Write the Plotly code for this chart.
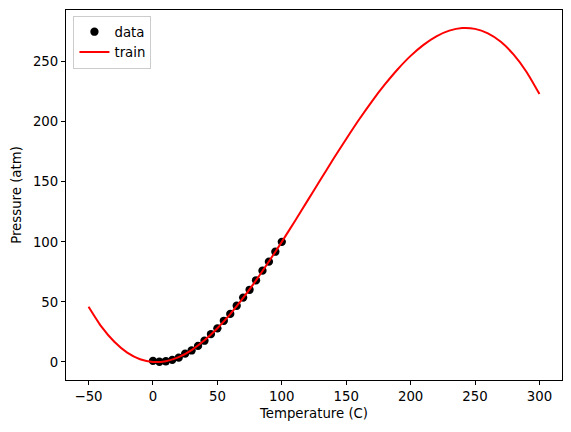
import plotly.graph_objects as go

# Observed data
temp_data = [0, 5, 10, 15, 20, 25, 30, 35, 40, 45, 50, 55, 60, 65, 70, 75, 80, 85, 90, 95, 100]
pres_data = [0.9, 0.2, 0.6, 1.8, 3.6, 6.9, 9.6, 13.4, 17.7, 23.2, 28.0, 34.3, 40.0, 46.8,
             53.6, 60.1, 68.0, 76.0, 83.5, 91.8, 100.0]

# Trained (fitted) curve
temp_train = [-50, -40, -30, -20, -10, 0, 10, 20, 30, 40, 50, 60, 70, 80, 90, 100, 110, 120,
              130, 140, 150, 160, 170, 180, 190, 200, 210, 220, 230, 240, 250, 260, 270, 280,
              290, 300]
pres_train = [46.0, 29.4, 16.8, 7.8, 2.3, 0.0, 0.65, 4.0, 9.9, 18.0, 28.1, 39.9, 53.3, 67.9,
              83.6, 100.0, 117.0, 134.3, 151.7, 168.9, 185.6, 201.8, 217.0, 231.0, 243.7,
              254.8, 264.0, 271.1, 275.8, 278.0, 277.3, 273.5, 266.5, 255.8, 241.4, 223.0]

x_ticks = [-50, 0, 50, 100, 150, 200, 250, 300]
y_ticks = [0, 50, 100, 150, 200, 250]

fig = go.Figure()
fig.add_trace(go.Scatter(x=temp_data, y=pres_data, mode="markers", name="data",
                         marker=dict(color="black", size=8.3)))
fig.add_trace(go.Scatter(x=temp_train, y=pres_train, mode="lines", name="train",
                         line=dict(color="red", width=2, shape="spline", smoothing=0.6)))

font = dict(family="DejaVu Sans", size=13.3, color="black")
axis_common = dict(showline=True, mirror=True, linecolor="black", linewidth=1.1,
                   ticks="outside", ticklen=4, tickwidth=1.1, tickcolor="black",
                   showgrid=False, zeroline=False, tickfont=font)

fig.update_layout(
    width=571, height=432,
    margin=dict(l=66, r=9, t=10, b=52),
    paper_bgcolor="white", plot_bgcolor="white",
    font=font,
    showlegend=True,
    legend=dict(x=0.015, y=0.985, xanchor="left", yanchor="top",
                bgcolor="rgba(255,255,255,0.8)", bordercolor="#cccccc", borderwidth=1,
                font=font, itemwidth=30, tracegroupgap=2),
    xaxis=dict(range=[-67.5, 317.5], tickvals=x_ticks,
               ticktext=[str(v).replace("-", "\u2212") for v in x_ticks],
               title=dict(text="Temperature (C)", font=font, standoff=5), **axis_common),
    yaxis=dict(range=[-15, 293], tickvals=y_ticks,
               ticktext=[str(v) for v in y_ticks],
               title=dict(text="Pressure (atm)", font=font, standoff=8), **axis_common),
)

fig.write_html("out.html")
